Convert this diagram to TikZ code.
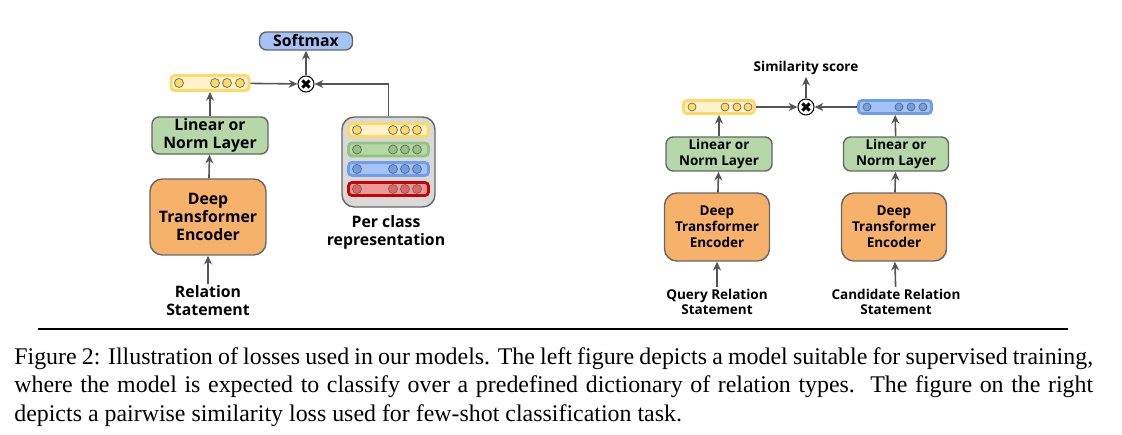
\documentclass[tikz,border=0pt]{standalone}
\usepackage{fontspec}
\setmainfont{Liberation Serif}
\newfontfamily\diagfont{Open Sans}
\usetikzlibrary{positioning,arrows.meta}

\definecolor{softblue}{HTML}{A4C2F4}
\definecolor{softgreen}{HTML}{B6D7A8}
\definecolor{softorange}{HTML}{F6B26B}
\definecolor{boxline}{HTML}{666666}
\definecolor{arrowgray}{HTML}{555555}
\definecolor{yelB}{HTML}{FFD966}
\definecolor{yelF}{HTML}{FFF2CC}
\definecolor{yelC}{HTML}{FFD966}
\definecolor{grnB}{HTML}{93C47D}
\definecolor{grnF}{HTML}{B6D7A8}
\definecolor{grnC}{HTML}{93C47D}
\definecolor{bluB}{HTML}{6D9EEB}
\definecolor{bluF}{HTML}{A4C2F4}
\definecolor{bluC}{HTML}{6D9EEB}
\definecolor{redB}{HTML}{CC0000}
\definecolor{redF}{HTML}{EA9999}
\definecolor{redC}{HTML}{E06666}

\begin{document}
\begin{tikzpicture}[x=0.02cm, y=-0.02cm,
    box/.style={draw=boxline, line width=0.8pt, rounded corners=4pt, align=center,
        inner sep=0pt, font=\diagfont\bfseries\fontsize{9}{10.2}\selectfont},
    smallbox/.style={box, font=\diagfont\bfseries\fontsize{7.7}{9}\selectfont},
    label/.style={align=center, inner sep=1pt, font=\diagfont\bfseries\fontsize{9}{10.2}\selectfont},
    smalllabel/.style={label, font=\diagfont\bfseries\fontsize{7.7}{9}\selectfont},
    vecbox/.style={rounded corners=2pt, line width=1.6pt, inner sep=0pt},
    dot/.style={draw=gray!80!black, line width=0.4pt},
    mult/.style={circle, draw=black, line width=0.6pt, fill=white, minimum size=0.32cm, inner sep=0pt,
        path picture={\draw[line width=1.7pt, black] (path picture bounding box.center) ++(-2pt,-2pt) -- ++(4pt,4pt)
            ++(0,-4pt) -- ++(-4pt,4pt);}},
    arr/.style={-{Stealth[length=5pt,width=4.5pt]}, draw=arrowgray, line width=0.9pt}]
    \useasboundingbox (0,0) rectangle (1122,435);

    % Left model
    \node[box, fill=softblue, minimum width=1.86cm, minimum height=0.36cm] (softmax) at (306,41) {Softmax};
    \node[mult] (mulL) at (306,84) {};
    \node[vecbox, draw=yelB, fill=yelF, minimum width=1.56cm, minimum height=0.3cm] (vecL) at (210,83) {};
    \foreach \dx in {-31,5,17,30}
        \draw[dot, fill=yelC] ([xshift=\dx*0.02cm]vecL.center) circle (0.09cm);
    \node[box, fill=softgreen, minimum width=2.32cm, minimum height=0.74cm] (linL) at (210,135.5) {Linear or\\Norm Layer};
    \node[box, fill=softorange, minimum width=2.32cm, minimum height=1.52cm, rounded corners=7pt] (encL) at (208,217) {Deep\\Transformer\\Encoder};
    \node[label] (relL) at (208,301) {Relation\\Statement};

    % Per class representation
    \node[box, draw=boxline, fill=gray!30, minimum width=1.86cm, minimum height=1.8cm, rounded corners=7pt] (classes) at (388.5,162) {};
    \foreach \yy/\bc/\fc/\cc [count=\n] in {130/yelB/yelF/yelC, 149.5/grnB/grnF/grnC, 169/bluB/bluF/bluC, 189/redB/redF/redC} {
        \node[vecbox, draw=\bc, fill=\fc, minimum width=1.6cm, minimum height=0.26cm] (row\n) at (388.5,\yy) {};
        \foreach \dx in {-31.5,4.5,16.5,28.5}
            \draw[dot, fill=\cc] ([xshift=\dx*0.02cm]row\n.center) circle (0.09cm);
    }
    \node[label] (classtxt) at (386,232) {Per class\\representation};

    \draw[arr] (relL) -- (encL);
    \draw[arr] (encL) -- (linL);
    \draw[arr] (linL) -- (vecL);
    \draw[arr] (vecL) -- (mulL);
    \draw[arr] (classes.north) |- (mulL.east);
    \draw[arr] (mulL) -- (softmax);

    % Right model
    \node[smalllabel] (sim) at (806,68) {Similarity score};
    \node[mult] (mulR) at (806,107) {};
    \node[vecbox, draw=yelB, fill=yelF, minimum width=1.42cm, minimum height=0.26cm] (vecQ) at (719,107) {};
    \foreach \dx in {-27,6,18,29}
        \draw[dot, fill=yelC] ([xshift=\dx*0.02cm]vecQ.center) circle (0.08cm);
    \node[vecbox, draw=bluB, fill=bluF, minimum width=1.46cm, minimum height=0.26cm] (vecC) at (895,107) {};
    \foreach \dx in {-28,4,16,28}
        \draw[dot, fill=bluC] ([xshift=\dx*0.02cm]vecC.center) circle (0.08cm);
    \node[smallbox, fill=softgreen, minimum width=2.12cm, minimum height=0.68cm] (linQ) at (719,154) {Linear or\\Norm Layer};
    \node[smallbox, fill=softgreen, minimum width=2.1cm, minimum height=0.68cm] (linC) at (896,154) {Linear or\\Norm Layer};
    \node[smallbox, fill=softorange, minimum width=2.1cm, minimum height=1.36cm, rounded corners=7pt] (encQ) at (717,227) {Deep\\Transformer\\Encoder};
    \node[smallbox, fill=softorange, minimum width=2.1cm, minimum height=1.36cm, rounded corners=7pt] (encC) at (894,227) {Deep\\Transformer\\Encoder};
    \node[smalllabel] (qry) at (717,302) {Query Relation\\Statement};
    \node[smalllabel] (cand) at (896,302) {Candidate Relation\\Statement};

    \draw[arr] (qry) -- (encQ);
    \draw[arr] (cand) -- (encC);
    \draw[arr] (encQ) -- (linQ);
    \draw[arr] (encC) -- (linC);
    \draw[arr] (linQ) -- (vecQ);
    \draw[arr] (linC) -- (vecC);
    \draw[arr] (vecQ) -- (mulR);
    \draw[arr] (vecC) -- (mulR);
    \draw[arr] (mulR) -- (sim);

    % Rule and caption
    \draw[line width=0.6pt] (38,329) -- (1068,329);
    \node[anchor=north west, inner sep=0pt, text width=21.58cm, align=justify,
        font=\fontsize{13.6}{16.4}\selectfont] (caption) at (14,347)
        {Figure 2: Illustration of losses used in our models. The left figure depicts a model suitable for supervised training,\linebreak
        where the model is expected to classify over a predefined dictionary of relation types.\ \ The figure on the right\linebreak
        depicts a pairwise similarity loss used for few-shot classification task.};
\end{tikzpicture}
\end{document}
